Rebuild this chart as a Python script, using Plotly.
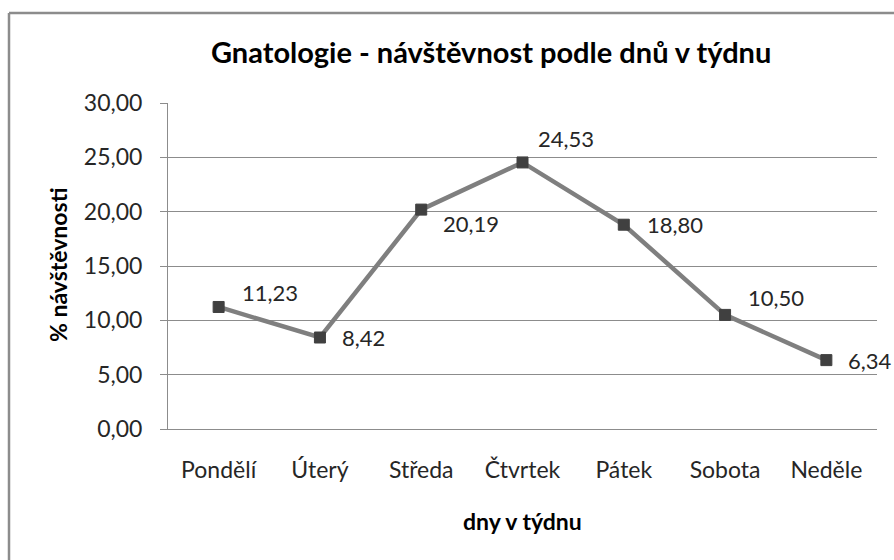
import plotly.graph_objects as go

days = ["Pondělí", "Úterý", "Středa", "Čtvrtek", "Pátek", "Sobota", "Neděle"]
values = [11.23, 8.42, 20.19, 24.53, 18.80, 10.50, 6.34]
y_ticks = [0, 5, 10, 15, 20, 25, 30]
y_tick_labels = ["0,00", "5,00", "10,00", "15,00", "20,00", "25,00", "30,00"]

title_text = "Gnatologie - návštěvnost podle dnů v týdnu"
x_title = "dny v týdnu"
y_title = "% návštěvnosti"

FONT = "Lato"
TEXT = "#262626"

# label offsets (px) relative to marker: (xshift to left edge, yshift up)
label_offsets = [(21, 14), (20, 0), (20, -14), (13, 24), (21, 0), (21, 17), (20, 0)]

W, H = 894, 560
ML, MR, MT, MB = 168, 17, 103, 131
PW, PH = W - ML - MR, H - MT - MB

fig = go.Figure()
fig.add_trace(go.Scatter(
    x=days, y=values, mode="lines+markers",
    line=dict(color="#7f7f7f", width=4.5),
    marker=dict(symbol="square", size=11, color="#404040",
                line=dict(color="#404040", width=1)),
    hoverinfo="skip", showlegend=False,
))

annotations = []
for d, v, (dx, dy) in zip(days, values, label_offsets):
    annotations.append(dict(
        x=d, y=v, xref="x", yref="y",
        text=f"{v:.2f}".replace(".", ","),
        showarrow=False, xanchor="left", yanchor="middle",
        xshift=dx, yshift=dy,
        font=dict(family=FONT, size=22, color=TEXT),
    ))

annotations.append(dict(
    x=(491 - ML) / PW, y=(H - MB - 51) / PH, xref="paper", yref="paper",
    text=f"<b>{title_text}</b>", showarrow=False, xanchor="center", yanchor="middle",
    font=dict(family=FONT, size=29, color="#000000"),
))
annotations.append(dict(
    x=0.5, y=(H - MB - 521) / PH, xref="paper", yref="paper",
    text=f"<b>{x_title}</b>", showarrow=False, xanchor="center", yanchor="middle",
    font=dict(family=FONT, size=23, color="#000000"),
))
annotations.append(dict(
    x=(58 - ML) / PW, y=(H - MB - 265) / PH, xref="paper", yref="paper",
    text=f"<b>{y_title}</b>", showarrow=False, xanchor="center", yanchor="middle",
    textangle=-90,
    font=dict(family=FONT, size=23, color="#000000"),
))

shapes = [
    # outer chart border (left and top visible; rest cropped)
    dict(type="line", xref="paper", yref="paper",
         x0=(9 - ML) / PW, x1=(9 - ML) / PW, y0=(H - MB - 570) / PH, y1=(H - MB - 13) / PH,
         line=dict(color="#8c8c8c", width=2.5)),
    dict(type="line", xref="paper", yref="paper",
         x0=(9 - ML) / PW, x1=(900 - ML) / PW, y0=(H - MB - 13) / PH, y1=(H - MB - 13) / PH,
         line=dict(color="#8c8c8c", width=2.5)),
]

fig.update_layout(
    width=W, height=H,
    margin=dict(l=ML, r=MR, t=MT, b=MB, pad=0),
    paper_bgcolor="white", plot_bgcolor="white",
    font=dict(family=FONT, color=TEXT),
    annotations=annotations, shapes=shapes,
    xaxis=dict(
        type="category", range=[-0.5, 6.5],
        showgrid=False, showline=True, linecolor="#8c8c8c", linewidth=1,
        ticks="", tickfont=dict(family=FONT, size=23, color=TEXT),
        ticklabelstandoff=20, fixedrange=True,
    ),
    yaxis=dict(
        range=[0, 30], tickvals=y_ticks, ticktext=y_tick_labels,
        showgrid=True, gridcolor="#8c8c8c", gridwidth=1,
        showline=True, linecolor="#8c8c8c", linewidth=1,
        ticks="outside", ticklen=7, tickcolor="#8c8c8c",
        tickfont=dict(family=FONT, size=23, color=TEXT),
        ticklabelstandoff=13, zeroline=False, fixedrange=True,
    ),
)

fig.write_html("out.html", config={"displayModeBar": False},
               post_script="document.body.style.margin='0';document.body.style.padding='0';")
